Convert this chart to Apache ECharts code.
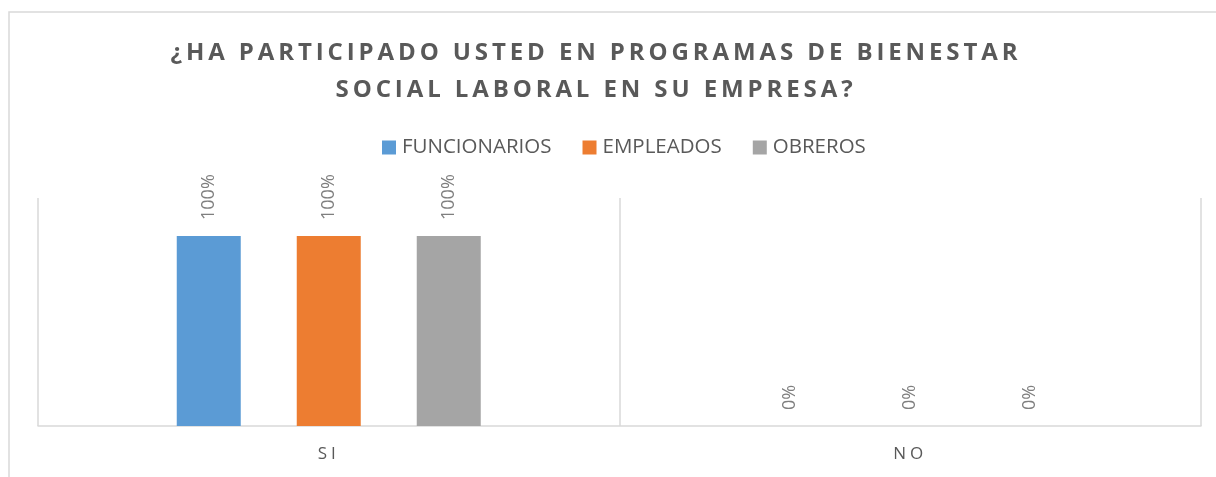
<!DOCTYPE html>
<html>
<head>
<meta charset="utf-8">
<script src="https://cdn.jsdelivr.net/npm/echarts@6/dist/echarts.min.js"></script>
<style>
html,body{margin:0;padding:0;background:#fff;}
#chart{width:1216px;height:477px;}
</style>
</head>
<body>
<div id="chart"></div>
<script>
const titleText = "¿HA PARTICIPADO USTED EN PROGRAMAS DE BIENESTAR\nSOCIAL LABORAL EN SU EMPRESA?";
const categories = ["SI", "NO"];
const seriesNames = ["FUNCIONARIOS", "EMPLEADOS", "OBREROS"];
const funcionarios = [100, 0];
const empleados = [100, 0];
const obreros = [100, 0];
const colors = ["#5b9bd5", "#ed7d31", "#a5a5a5"];

// letter spacing for the title and category labels (drawing only; text stays real text)
(function () {
  const proto = CanvasRenderingContext2D.prototype;
  const origFill = proto.fillText;
  proto.fillText = function (t, x, y, mw) {
    const f = this.font || '';
    let ls = '0px';
    if (/(bold|700)/.test(f) && /\b24px/.test(f)) ls = '3.9px';
    else if (/\b17px/.test(f)) ls = '4px';
    if ('letterSpacing' in this) {
      this.letterSpacing = ls;
      this.font = f;
    }
    const r = mw === undefined ? origFill.call(this, t, x, y) : origFill.call(this, t, x, y, mw);
    if ('letterSpacing' in this && ls !== '0px') {
      this.letterSpacing = '0px';
      this.font = f;
    }
    return r;
  };
})();

const chart = echarts.init(document.getElementById('chart'), null, {renderer: 'canvas'});
const values = [funcionarios, empleados, obreros];
const option = {
  animation: false,
  backgroundColor: '#ffffff',
  title: {
    text: titleText,
    left: 591,
    top: 30,
    textAlign: 'center',
    textStyle: {
      fontFamily: 'Open Sans',
      fontWeight: 'bold',
      fontSize: 24,
      color: '#595959',
      lineHeight: 37
    }
  },
  legend: {
    data: seriesNames,
    top: 132,
    left: 377,
    itemWidth: 14,
    itemHeight: 14,
    itemGap: 31,
    icon: 'rect',
    textStyle: {fontFamily: 'Open Sans', fontSize: 20.5, color: '#595959', padding: [0, 0, 0, 1]}
  },
  grid: {left: 38, right: 15, top: 198, bottom: 51},
  xAxis: {
    type: 'category',
    data: categories,
    axisLine: {show: true, lineStyle: {color: '#d9d9d9', width: 1.5}},
    axisTick: {show: false},
    splitLine: {show: true, lineStyle: {color: '#d9d9d9', width: 1.5}},
    axisLabel: {fontFamily: 'Open Sans', fontSize: 17, color: '#595959', margin: 20}
  },
  yAxis: {
    type: 'value',
    min: 0,
    max: 120,
    show: false,
    splitLine: {show: false}
  },
  series: seriesNames.map((n, i) => ({
    name: n,
    type: 'bar',
    data: values[i],
    barWidth: 64,
    barGap: '87.5%',
    itemStyle: {color: colors[i]},
    label: {
      show: true,
      position: 'top',
      rotate: 90,
      align: 'left',
      verticalAlign: 'middle',
      distance: 16,
      formatter: p => p.value + '%',
      fontFamily: 'Open Sans',
      fontSize: 18,
      color: '#7f7f7f'
    }
  })),
  graphic: [{
    type: 'rect',
    shape: {x: 9, y: 12, width: 1300, height: 600},
    style: {fill: 'none', stroke: '#d9d9d9', lineWidth: 1.5},
    silent: true
  }]
};
chart.setOption(option);
</script>
</body>
</html>
